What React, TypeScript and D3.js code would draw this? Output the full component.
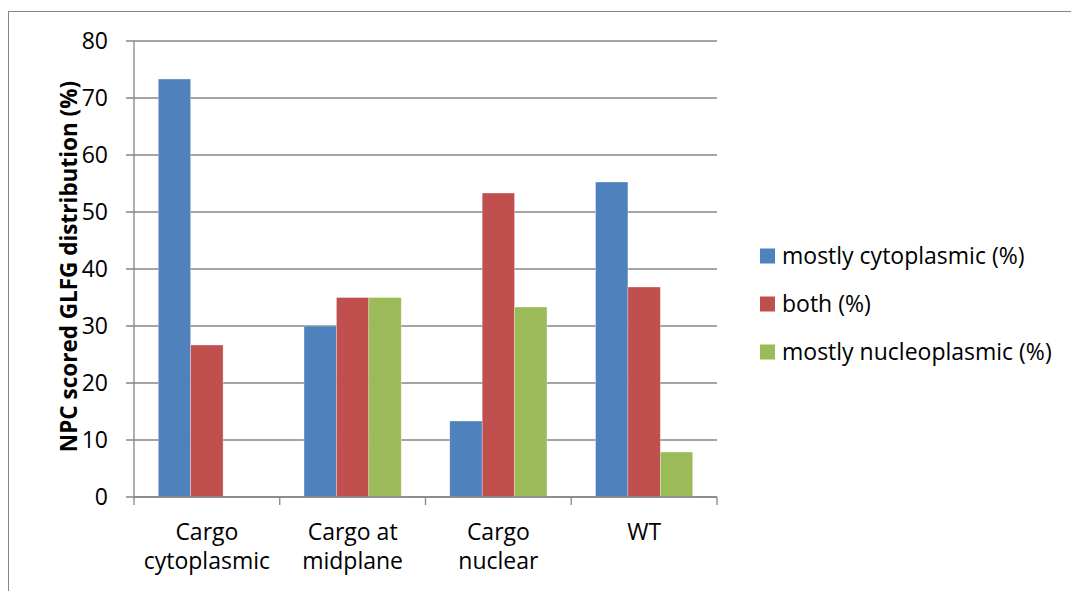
import React from "react";
import * as d3 from "d3";

const categories: string[][] = [
  ["Cargo", "cytoplasmic"],
  ["Cargo at", "midplane"],
  ["Cargo", "nuclear"],
  ["WT"],
];
const seriesNames = ["mostly cytoplasmic (%)", "both (%)", "mostly nucleoplasmic (%)"];
const mostlyCytoplasmic = [73.33, 30, 13.33, 55.26];
const both = [26.67, 35, 53.33, 36.84];
const mostlyNucleoplasmic = [0, 35, 33.33, 7.89];
const seriesColors = ["#4F81BD", "#C0504D", "#9BBB59"];
const yTicks = [0, 10, 20, 30, 40, 50, 60, 70, 80];
const yTitle = "NPC scored GLFG distribution (%)";

const FONT = "'Open Sans', sans-serif";
const FS = 23;

export default function App() {
  const W = 1071, H = 591;
  const left = 134, right = 717, top = 41, bottom = 497;
  const series = [mostlyCytoplasmic, both, mostlyNucleoplasmic];
  const x0 = d3.scaleBand<number>().domain(d3.range(categories.length)).range([left, right]).paddingInner(0).paddingOuter(0);
  const y = d3.scaleLinear().domain([0, 80]).range([bottom, top]);
  const bw = x0.bandwidth();
  const x1 = d3.scaleBand<number>().domain(d3.range(series.length)).range([bw * 0.1666, bw * 0.8334]).padding(0);
  const grid = "#868686";
  return (
    <svg width={W} height={H} style={{ position: "absolute", left: 0, top: 0, display: "block" }}>
      <rect x={8.5} y={11.5} width={W} height={H} fill="white" stroke={grid} strokeWidth={1} />
      {yTicks.map((t) => (
        <g key={t}>
          <line x1={126} x2={right} y1={y(t)} y2={y(t)} stroke={grid} strokeWidth={1.3} />
          <text x={108} y={y(t)} dy="0.36em" textAnchor="end" fontFamily={FONT} fontSize={FS} fill="#000">{t}</text>
        </g>
      ))}
      {series.map((vals, si) =>
        vals.map((v, ci) =>
          v > 0 ? (
            <rect key={`${si}-${ci}`} x={(x0(ci) as number) + (x1(si) as number)} y={y(v)} width={x1.bandwidth()} height={y(0) - y(v)} fill={seriesColors[si]} stroke="rgba(255,255,255,0.5)" strokeWidth={0.6} />
          ) : null
        )
      )}
      <line x1={left} x2={left} y1={top} y2={bottom} stroke={grid} strokeWidth={1.3} />
      <line x1={left} x2={right} y1={bottom} y2={bottom} stroke={grid} strokeWidth={1.3} />
      {d3.range(categories.length + 1).map((i) => {
        const xx = left + i * bw;
        return <line key={i} x1={xx} x2={xx} y1={bottom} y2={bottom + 8} stroke={grid} strokeWidth={1.3} />;
      })}
      {categories.map((lines, ci) => (
        <text key={ci} x={(x0(ci) as number) + bw / 2} y={540} textAnchor="middle" fontFamily={FONT} fontSize={FS} fill="#000">
          {lines.map((l, li) => (
            <tspan key={li} x={(x0(ci) as number) + bw / 2} dy={li === 0 ? 0 : 29}>{l}</tspan>
          ))}
        </text>
      ))}
      <text transform={`translate(77,${266.5}) rotate(-90)`} textAnchor="middle" fontFamily={FONT} fontWeight="bold" fontSize={22.5} fill="#000">{yTitle}</text>
      {seriesNames.map((n, i) => (
        <g key={n} transform={`translate(760,${256 + i * 48})`}>
          <rect x={0} y={-7.5} width={15} height={15} fill={seriesColors[i]} />
          <text x={22} y={0} dy="0.36em" fontFamily={FONT} fontSize={FS} fill="#000">{n}</text>
        </g>
      ))}
    </svg>
  );
}
